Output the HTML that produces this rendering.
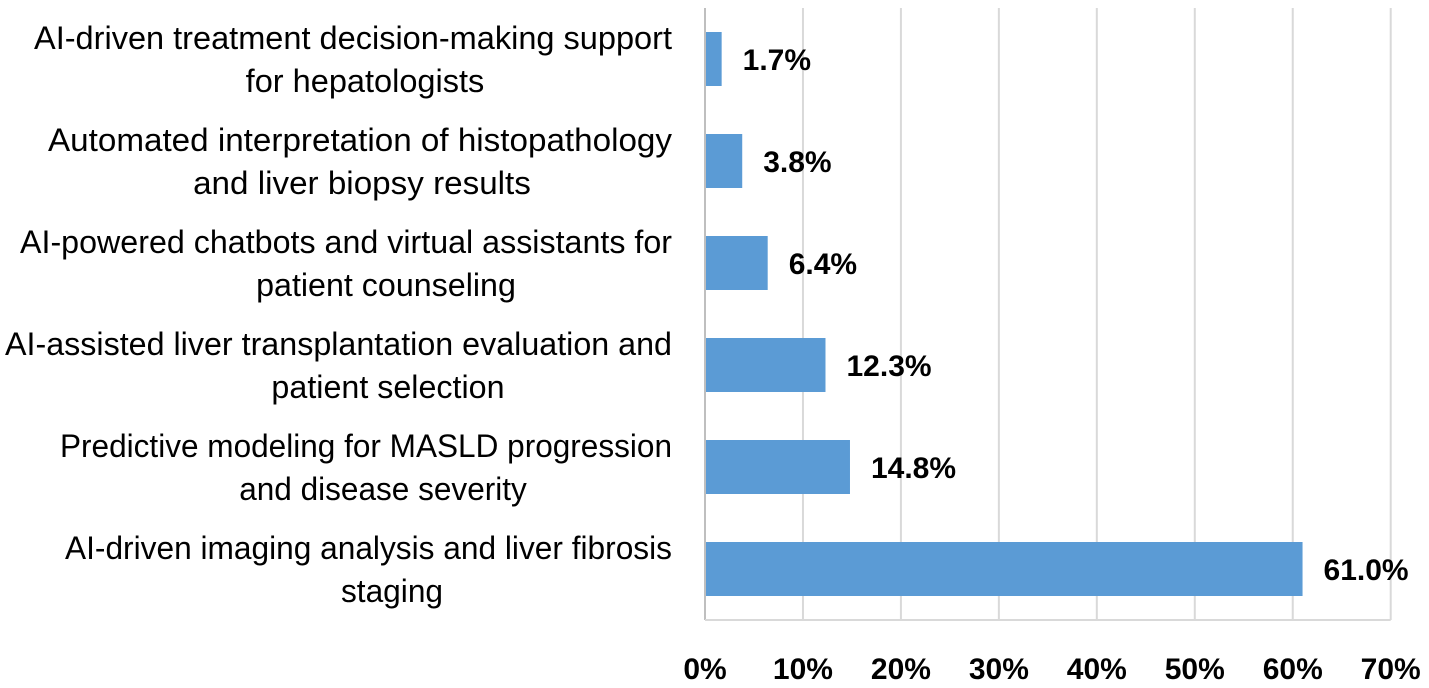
<!DOCTYPE html>
<html><head><meta charset="utf-8"><style>
html,body{margin:0;padding:0;background:#fff;}
svg{display:block;font-family:"Liberation Sans",Arial,sans-serif;}
</style></head><body>
<svg id="chart" width="1429" height="688" viewBox="0 0 1429 688" xmlns="http://www.w3.org/2000/svg"></svg>
<script>
const categories1 = ["AI-driven treatment decision-making support","Automated interpretation of histopathology","AI-powered chatbots and virtual assistants for","AI-assisted liver transplantation evaluation and","Predictive modeling for MASLD progression","AI-driven imaging analysis and liver fibrosis"];
const categories2 = ["for hepatologists","and liver biopsy results","patient counseling","patient selection","and disease severity","staging"];
const values = [1.7, 3.8, 6.4, 12.3, 14.8, 61.0];
const valueLabels = ["1.7%","3.8%","6.4%","12.3%","14.8%","61.0%"];
const ticks = [0,10,20,30,40,50,60,70];
const tickLabels = ["0%","10%","20%","30%","40%","50%","60%","70%"];

(function(){
const svg = document.getElementById('chart');
const NS = 'http://www.w3.org/2000/svg';
const x0 = 705, x1 = 1390.7, plotTop = 8, plotBottom = 620;
const xScale = v => x0 + (v - ticks[0]) / (ticks[ticks.length-1] - ticks[0]) * (x1 - x0);
const band = (plotBottom - plotTop) / values.length;
const yCenter = i => plotTop + band * (i + 0.5);
function mk(tag, attrs){const e=document.createElementNS(NS,tag);for(const k in attrs)e.setAttribute(k,attrs[k]);svg.appendChild(e);return e;}
function textLen(el, fallback){try{const l=el.getComputedTextLength();return l>0?l:fallback;}catch(e){return fallback;}}

ticks.forEach((t,i)=>{
  const g = mk('line',{x1:xScale(t),x2:xScale(t),y1:plotTop,y2:plotBottom,stroke:'#d9d9d9','stroke-width':2});
  
  
  const tl = mk('text',{x:xScale(t),y:679,'text-anchor':'middle','font-size':30,'font-weight':'bold',fill:'#000'});
  tl.textContent = tickLabels[i];
  
  
});
const ax = mk('line',{x1:x0,x2:x0,y1:plotTop,y2:plotBottom,stroke:'#bfbfbf','stroke-width':2});


const bx = mk('line',{x1:x0,x2:x1,y1:plotBottom,y2:plotBottom,stroke:'#d9d9d9','stroke-width':2});



const barH = 54;
values.forEach((v,i)=>{
  const c = yCenter(i);
  const r = mk('rect',{x:x0+1,y:c-barH/2,width:Math.max(0,xScale(v)-x0-1),height:barH,fill:'#5b9bd5'});
  
  
  const vl = mk('text',{x:xScale(v)+21,y:c+11,'font-size':30,'font-weight':'bold',fill:'#000'});
  vl.textContent = valueLabels[i];
  
  
});

const lefts = [34,48,20,5,60,65];
const centers2 = [365,362,386,388,383,392];
values.forEach((v,i)=>{
  const c = yCenter(i);
  const t1 = mk('text',{x:672,y:c-10,'text-anchor':'end','font-size':32,fill:'#000'});
  t1.textContent = categories1[i];
  
  
  const target = 672 - lefts[i];
  const nat = textLen(t1, target/0.87);
  const ratio = target / nat;
  t1.setAttribute('textLength', target);
  t1.setAttribute('lengthAdjust', 'spacingAndGlyphs');
  const t2 = mk('text',{x:centers2[i],y:c+33,'text-anchor':'middle','font-size':32,fill:'#000'});
  t2.textContent = categories2[i];
  
  
  const nat2 = textLen(t2, categories2[i].length*16);
  t2.setAttribute('textLength', nat2*ratio);
  t2.setAttribute('lengthAdjust', 'spacingAndGlyphs');
});
})();
</script>
</body></html>
